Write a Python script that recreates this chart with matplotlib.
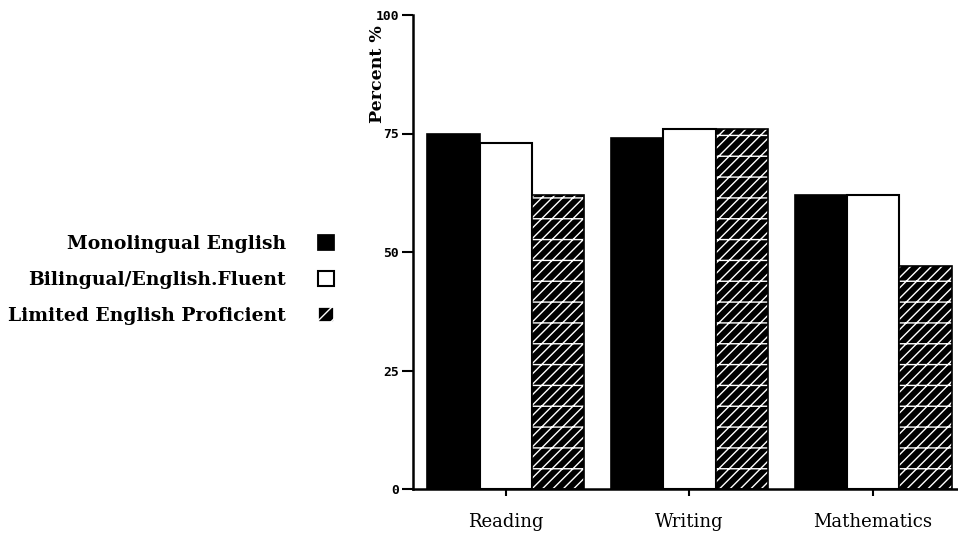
import numpy as np
import matplotlib
matplotlib.use('Agg')
import matplotlib.pyplot as plt
from matplotlib.patches import Patch

subjects = ["Reading", "Writing", "Mathematics"]
groups = ["Monolingual English", "Bilingual/English.Fluent", "Limited English Proficient"]
monolingual = [75, 74, 62]
bilingual = [73, 76, 62]
limited = [62, 76, 47]
yticks = [0, 25, 50, 75, 100]

# dpi 125 so the horizontal hatch spacing comes out ~21 px like the scan
DPI = 125
k = 100 / DPI  # point sizes below were tuned for 100 dpi
plt.rcParams['hatch.linewidth'] = 1.0 * k
serif = ['DejaVu Serif']

fig = plt.figure(figsize=(958 / DPI, 546 / DPI), dpi=DPI)
ax = fig.add_axes([413 / 958, 1 - 489 / 546, (957 - 413) / 958, (489 - 15) / 546])

x = np.arange(len(subjects))
w = 0.285
ax.bar(x - w, monolingual, w, color='black', edgecolor='black', linewidth=1.2 * k)
ax.bar(x, bilingual, w, color='white', edgecolor='black', linewidth=1.5 * k)
ax.bar(x + w, limited, w, color='black', edgecolor='white', hatch='////-', linewidth=0)
ax.bar(x + w, limited, w, fill=False, edgecolor='black', linewidth=1.2 * k)

ax.set_xlim(-0.505, 2.457)
ax.set_ylim(0, 100)
ax.set_yticks(yticks)
ax.set_yticklabels([str(t) for t in yticks], family='DejaVu Sans Mono',
                   fontsize=9.5 * k, fontweight='bold')
ax.set_xticks(x)
ax.set_xticklabels(subjects, family=serif, fontsize=13 * k)
ax.tick_params(axis='x', direction='out', length=5 * k, pad=12 * k, width=1.5 * k)
ax.tick_params(axis='y', direction='out', length=8 * k, width=1.5 * k, pad=2 * k)
for s in ['top', 'right']:
    ax.spines[s].set_visible(False)
ax.spines['left'].set_linewidth(1.8 * k)
ax.spines['bottom'].set_linewidth(1.8 * k)

fig.text(378 / 958, 1 - 74 / 546, "Percent %", rotation=90, ha='center', va='center',
         family=serif, fontsize=12.5 * k, fontweight='bold')

handles = [
    Patch(facecolor='black', edgecolor='black'),
    Patch(facecolor='white', edgecolor='black', linewidth=1.5 * k),
    Patch(facecolor='black', edgecolor='white', hatch='///'),
]
leg = fig.legend(handles, groups, loc='center right', bbox_to_anchor=(334 / 958, 1 - 280 / 546),
                 markerfirst=False, frameon=False, handlelength=0.85,
                 handleheight=0.85, handletextpad=1.7, labelspacing=0.95,
                 borderaxespad=0, borderpad=0,
                 prop={'family': serif, 'size': 13.5 * k, 'weight': 'bold'})

fig.savefig("out.png", dpi=DPI)
